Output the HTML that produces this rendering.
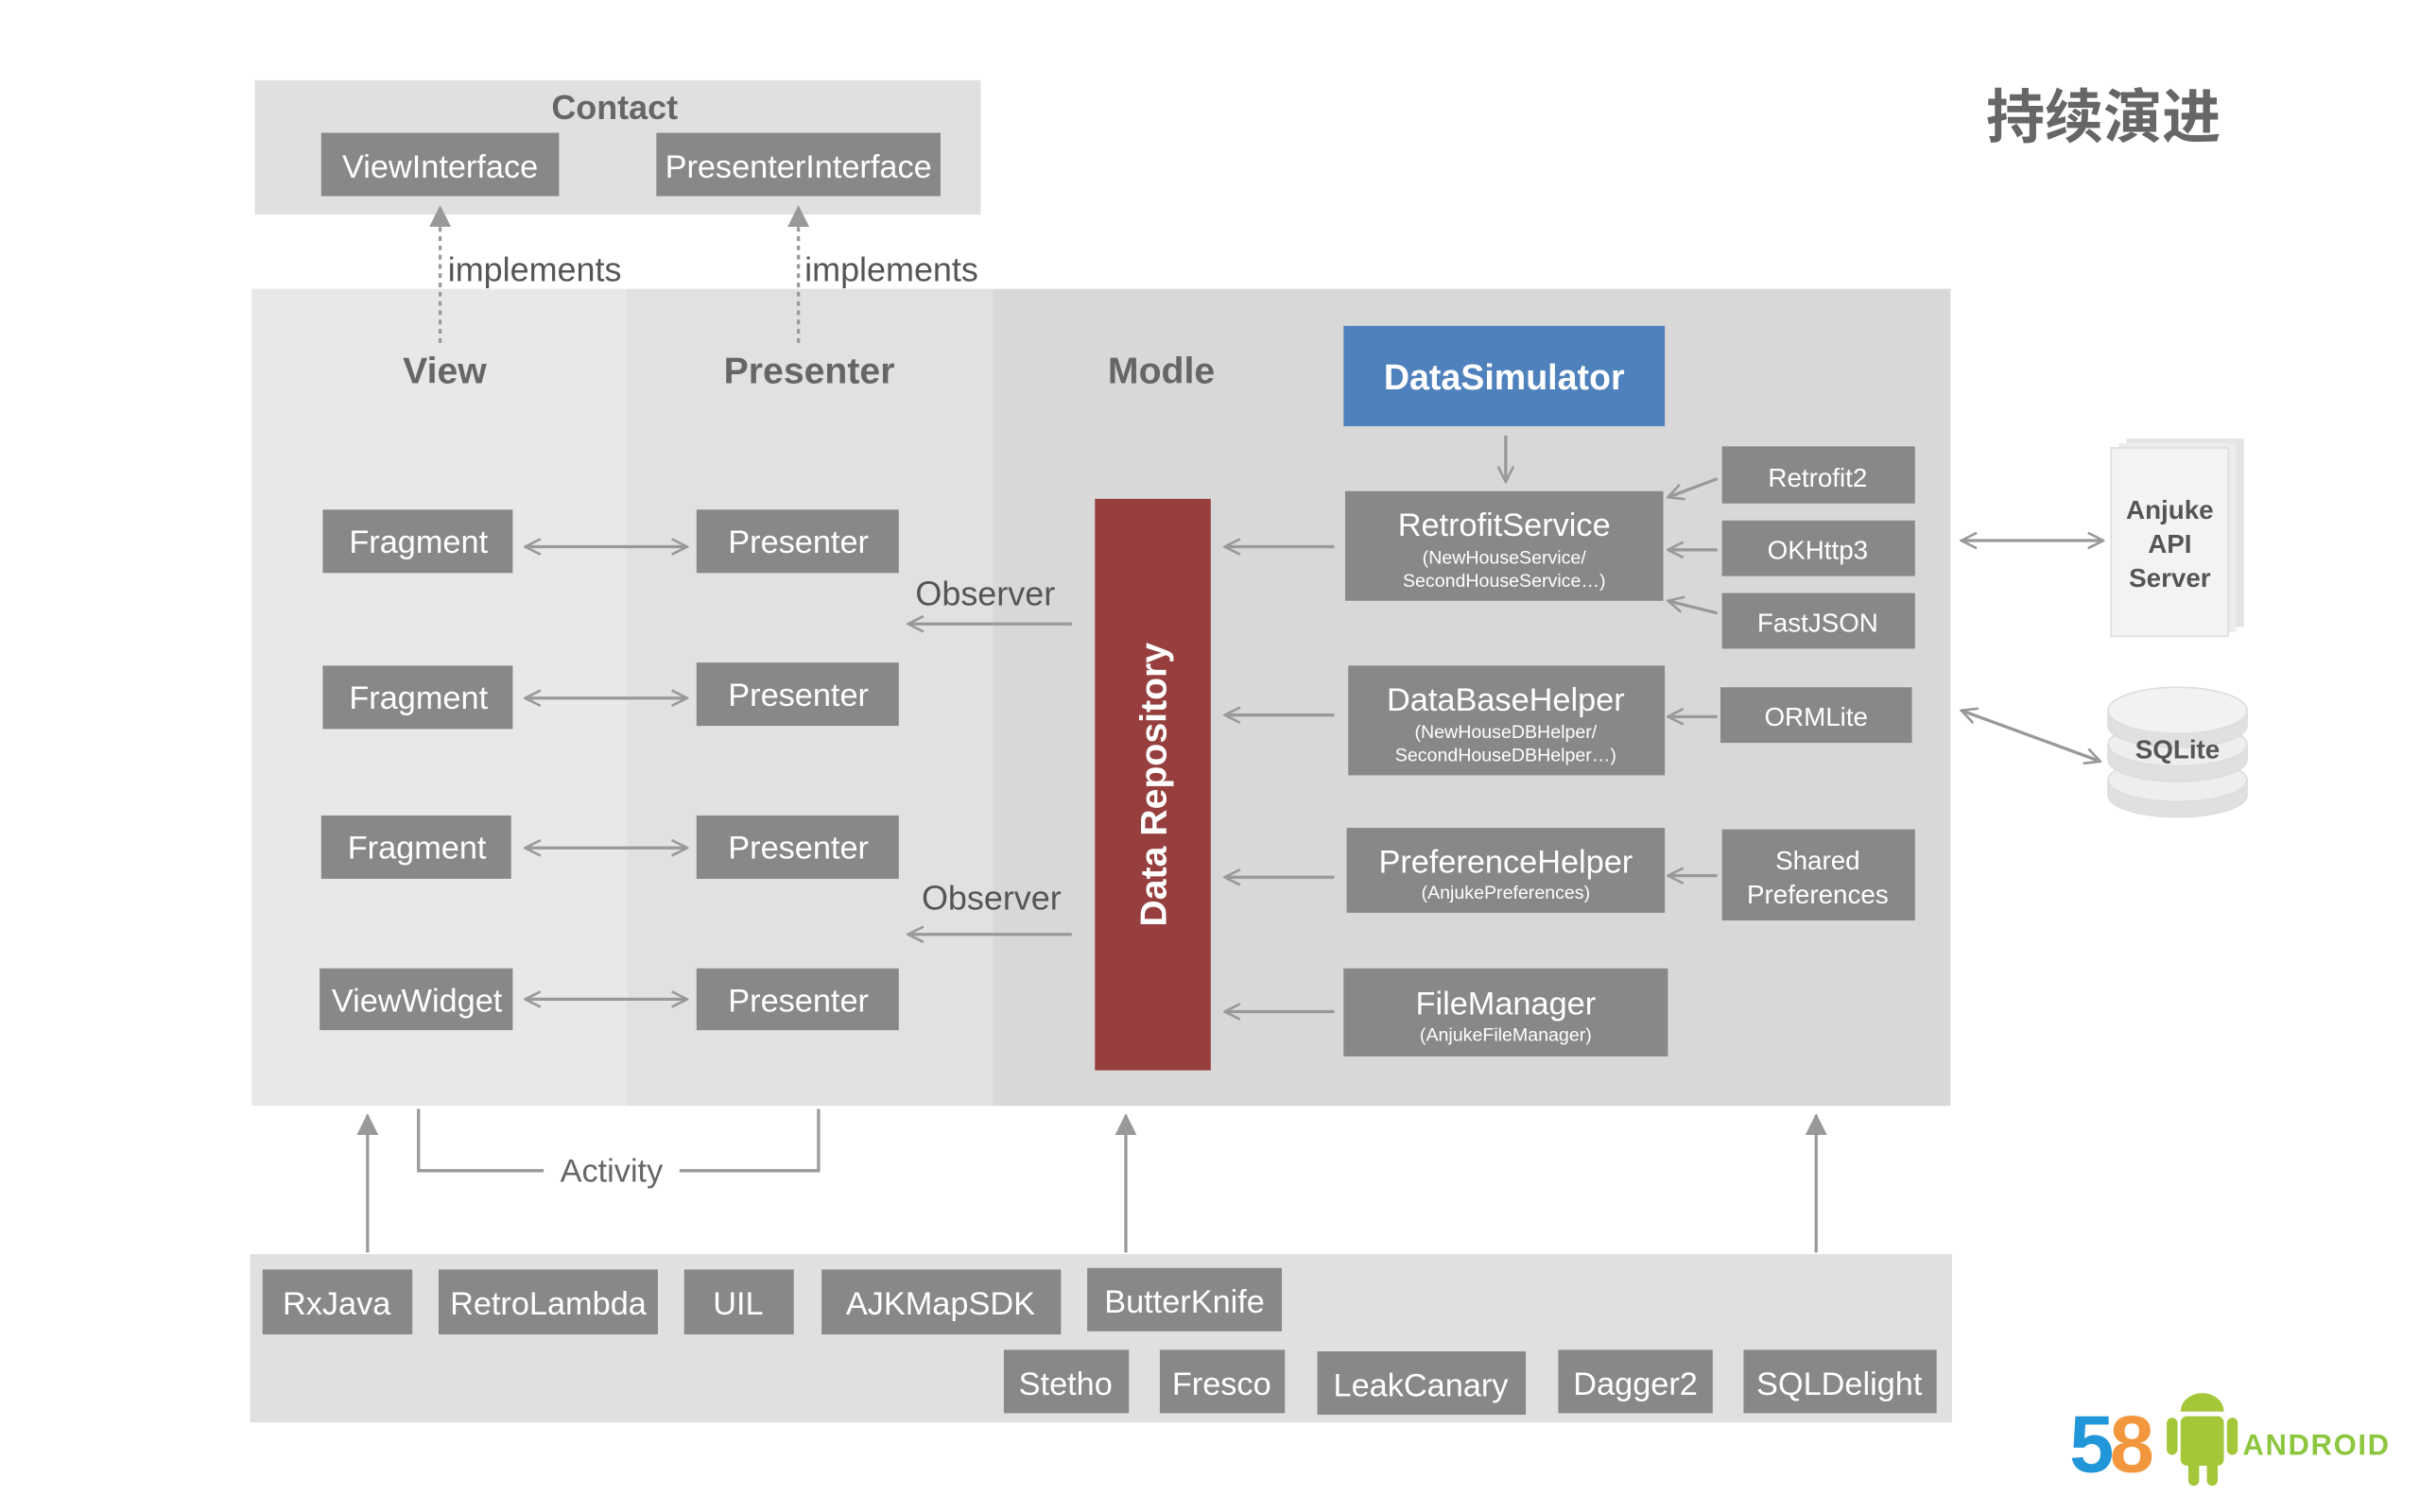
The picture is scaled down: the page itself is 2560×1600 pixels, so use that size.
<!DOCTYPE html>
<html><head><meta charset="utf-8">
<style>
html,body{margin:0;padding:0;background:#fff;}
svg{display:block;}
text{font-family:"Liberation Sans","Noto Sans CJK SC",sans-serif;}
</style></head>
<body>
<svg width="2560" height="1600" viewBox="0 0 1567 979" preserveAspectRatio="none" xmlns="http://www.w3.org/2000/svg">
<defs>
<marker id="op" viewBox="0 0 12 12" refX="11" refY="6" markerWidth="12" markerHeight="12" orient="auto-start-reverse" markerUnits="userSpaceOnUse">
<path d="M1,1 L11,6 L1,11" fill="none" stroke="#999" stroke-width="1.6"/></marker>
<marker id="tri" viewBox="0 0 12 12" refX="11" refY="6" markerWidth="14" markerHeight="14" orient="auto" markerUnits="userSpaceOnUse">
<path d="M0,0 L12,6 L0,12 z" fill="#999"/></marker>
</defs>
<rect width="1567" height="979" fill="#fff"/>

<rect x="165" y="52" width="470" height="87" fill="#e0e0e0"/>
<text x="398" y="77" font-size="22" font-weight="bold" fill="#666" text-anchor="middle">Contact</text>
<rect x="208" y="86" width="154" height="41" fill="#888"/>
<text x="285" y="115" font-size="21" fill="#fff" text-anchor="middle">ViewInterface</text>
<rect x="425" y="86" width="184" height="41" fill="#888"/>
<text x="517" y="115" font-size="21" fill="#fff" text-anchor="middle">PresenterInterface</text>

<rect x="163" y="187" width="243" height="529" fill="#e8e8e8"/>
<rect x="406" y="187" width="237" height="529" fill="#e1e1e1"/>
<rect x="643" y="187" width="620" height="529" fill="#d8d8d8"/>

<line x1="285" y1="222" x2="285" y2="134" stroke="#999" stroke-width="2" stroke-dasharray="3,3" marker-end="url(#tri)"/>
<line x1="517" y1="222" x2="517" y2="134" stroke="#999" stroke-width="2" stroke-dasharray="3,3" marker-end="url(#tri)"/>
<text x="290" y="182" font-size="22" fill="#555">implements</text>
<text x="521" y="182" font-size="22" fill="#555">implements</text>

<text x="288" y="248" font-size="24" font-weight="bold" fill="#666" text-anchor="middle">View</text>
<text x="524" y="248" font-size="24" font-weight="bold" fill="#666" text-anchor="middle">Presenter</text>
<text x="752" y="248" font-size="24" font-weight="bold" fill="#666" text-anchor="middle">Modle</text>

<rect x="870" y="211" width="208" height="65" fill="#4f81bd"/>
<text x="974" y="252" font-size="23" font-weight="bold" fill="#fff" text-anchor="middle">DataSimulator</text>

<g fill="#888">
<rect x="209" y="330" width="123" height="41"/>
<rect x="209" y="431" width="123" height="41"/>
<rect x="208" y="528" width="123" height="41"/>
<rect x="207" y="627" width="125" height="40"/>
<rect x="451" y="330" width="131" height="41"/>
<rect x="451" y="429" width="131" height="41"/>
<rect x="451" y="528" width="131" height="41"/>
<rect x="451" y="627" width="131" height="40"/>
</g>
<g font-size="21" fill="#fff" text-anchor="middle">
<text x="271" y="358">Fragment</text>
<text x="271" y="459">Fragment</text>
<text x="270" y="556">Fragment</text>
<text x="270" y="655">ViewWidget</text>
<text x="517" y="358">Presenter</text>
<text x="517" y="457">Presenter</text>
<text x="517" y="556">Presenter</text>
<text x="517" y="655">Presenter</text>
</g>
<g stroke="#999" stroke-width="2" marker-start="url(#op)" marker-end="url(#op)">
<line x1="340" y1="354" x2="445" y2="354"/>
<line x1="340" y1="452" x2="445" y2="452"/>
<line x1="340" y1="549" x2="445" y2="549"/>
<line x1="340" y1="647" x2="445" y2="647"/>
</g>
<text x="638" y="392" font-size="22" fill="#555" text-anchor="middle">Observer</text>
<text x="642" y="589" font-size="22" fill="#555" text-anchor="middle">Observer</text>
<g stroke="#999" stroke-width="2" marker-end="url(#op)">
<line x1="694" y1="404" x2="588" y2="404"/>
<line x1="694" y1="605" x2="588" y2="605"/>
<line x1="864" y1="354" x2="793" y2="354"/>
<line x1="864" y1="463" x2="793" y2="463"/>
<line x1="864" y1="568" x2="793" y2="568"/>
<line x1="864" y1="655" x2="793" y2="655"/>
<line x1="975" y1="282" x2="975" y2="312"/>
<line x1="1112" y1="310" x2="1080" y2="322"/>
<line x1="1112" y1="356" x2="1080" y2="356"/>
<line x1="1112" y1="397" x2="1080" y2="389"/>
<line x1="1112" y1="464" x2="1080" y2="464"/>
<line x1="1112" y1="567" x2="1080" y2="567"/>
</g>

<rect x="709" y="323" width="75" height="370" fill="#973f3f"/>
<text transform="translate(755,508) rotate(-90)" font-size="24" font-weight="bold" fill="#fff" text-anchor="middle">Data Repository</text>

<g fill="#888">
<rect x="871" y="318" width="206" height="71"/>
<rect x="873" y="431" width="205" height="71"/>
<rect x="872" y="536" width="206" height="55"/>
<rect x="870" y="627" width="210" height="57"/>
<rect x="1115" y="289" width="125" height="37"/>
<rect x="1115" y="337" width="125" height="36"/>
<rect x="1115" y="384" width="125" height="36"/>
<rect x="1114" y="445" width="124" height="36"/>
<rect x="1115" y="537" width="125" height="59"/>
</g>
<g fill="#fff" text-anchor="middle">
<text x="974" y="347" font-size="21">RetrofitService</text>
<text x="974" y="365" font-size="12">(NewHouseService/</text>
<text x="974" y="380" font-size="12">SecondHouseService…)</text>
<text x="975" y="460" font-size="21">DataBaseHelper</text>
<text x="975" y="478" font-size="12">(NewHouseDBHelper/</text>
<text x="975" y="493" font-size="12">SecondHouseDBHelper…)</text>
<text x="975" y="565" font-size="21">PreferenceHelper</text>
<text x="975" y="582" font-size="12">(AnjukePreferences)</text>
<text x="975" y="657" font-size="21">FileManager</text>
<text x="975" y="674" font-size="12">(AnjukeFileManager)</text>
<text x="1177" y="315" font-size="17">Retrofit2</text>
<text x="1177" y="362" font-size="17">OKHttp3</text>
<text x="1177" y="409" font-size="17">FastJSON</text>
<text x="1176" y="470" font-size="17">ORMLite</text>
<text x="1177" y="563" font-size="17">Shared</text>
<text x="1177" y="585" font-size="17">Preferences</text>
</g>

<rect x="1377" y="284" width="76" height="122" fill="#e4e4e4"/>
<rect x="1372" y="287" width="76" height="122" fill="#ececec"/>
<rect x="1367" y="290" width="76" height="122" fill="#f3f3f3" stroke="#ddd"/>
<text x="1405" y="336" font-size="17" font-weight="bold" fill="#555" text-anchor="middle">Anjuke</text>
<text x="1405" y="358" font-size="17" font-weight="bold" fill="#555" text-anchor="middle">API</text>
<text x="1405" y="380" font-size="17" font-weight="bold" fill="#555" text-anchor="middle">Server</text>
<line x1="1270" y1="350" x2="1362" y2="350" stroke="#999" stroke-width="2" marker-start="url(#op)" marker-end="url(#op)"/>

<g stroke="#ddd" stroke-width="1">
<path d="M1365,505 v10 a45,14 0 0 0 90,0 v-10 z" fill="#e0e0e0"/>
<ellipse cx="1410" cy="505" rx="45" ry="14" fill="#eee"/>
<path d="M1365,482 v10 a45,14 0 0 0 90,0 v-10 z" fill="#e0e0e0"/>
<ellipse cx="1410" cy="482" rx="45" ry="14" fill="#eee"/>
<path d="M1365,460 v10 a45,14 0 0 0 90,0 v-10 z" fill="#e0e0e0"/>
<ellipse cx="1410" cy="460" rx="45" ry="15" fill="#f2f2f2"/>
</g>
<text x="1410" y="491" font-size="17" font-weight="bold" fill="#555" text-anchor="middle">SQLite</text>
<line x1="1270" y1="460" x2="1360" y2="493" stroke="#999" stroke-width="2" marker-start="url(#op)" marker-end="url(#op)"/>

<line x1="238" y1="811" x2="238" y2="722" stroke="#999" stroke-width="2" marker-end="url(#tri)"/>
<line x1="729" y1="811" x2="729" y2="722" stroke="#999" stroke-width="2" marker-end="url(#tri)"/>
<line x1="1176" y1="811" x2="1176" y2="722" stroke="#999" stroke-width="2" marker-end="url(#tri)"/>
<path d="M271,718 V758 H352" fill="none" stroke="#999" stroke-width="2"/>
<path d="M440,758 H530 V718" fill="none" stroke="#999" stroke-width="2"/>
<text x="396" y="765" font-size="21" fill="#666" text-anchor="middle">Activity</text>

<rect x="162" y="812" width="1102" height="109" fill="#e0e0e0"/>
<g fill="#888">
<rect x="170" y="822" width="97" height="42"/>
<rect x="284" y="822" width="142" height="42"/>
<rect x="443" y="822" width="71" height="42"/>
<rect x="532" y="822" width="155" height="42"/>
<rect x="704" y="821" width="126" height="41"/>
<rect x="650" y="874" width="81" height="41"/>
<rect x="751" y="874" width="81" height="41"/>
<rect x="853" y="875" width="135" height="41"/>
<rect x="1009" y="874" width="100" height="41"/>
<rect x="1129" y="874" width="125" height="41"/>
</g>
<g font-size="21" fill="#fff" text-anchor="middle">
<text x="218" y="851">RxJava</text>
<text x="355" y="851">RetroLambda</text>
<text x="478" y="851">UIL</text>
<text x="609" y="851">AJKMapSDK</text>
<text x="767" y="850">ButterKnife</text>
<text x="690" y="903">Stetho</text>
<text x="791" y="903">Fresco</text>
<text x="920" y="904">LeakCanary</text>
<text x="1059" y="903">Dagger2</text>
<text x="1191" y="903">SQLDelight</text>
</g>

<text x="1362" y="89" font-size="38" font-weight="bold" fill="#666" text-anchor="middle">持续演进</text>

<g>
<text x="1340" y="953" font-size="52" font-weight="bold" fill="#2196d8">5</text>
<text x="1366" y="953" font-size="52" font-weight="bold" fill="#f39234" opacity="0.95">8</text>
<rect x="1412" y="917" width="28" height="32" rx="4" fill="#a4c639"/>
<path d="M1412,914 a14,12 0 0 1 28,0 z" fill="#a4c639"/>
<rect x="1403" y="918" width="7" height="24" rx="3.5" fill="#a4c639"/>
<rect x="1442" y="918" width="7" height="24" rx="3.5" fill="#a4c639"/>
<rect x="1417" y="944" width="7" height="18" rx="3.5" fill="#a4c639"/>
<rect x="1429" y="944" width="7" height="18" rx="3.5" fill="#a4c639"/>
<text x="1500" y="942" font-size="19" font-weight="bold" fill="#8dc63f" text-anchor="middle" letter-spacing="1">ANDROID</text>
</g>
</svg>
</body></html>
